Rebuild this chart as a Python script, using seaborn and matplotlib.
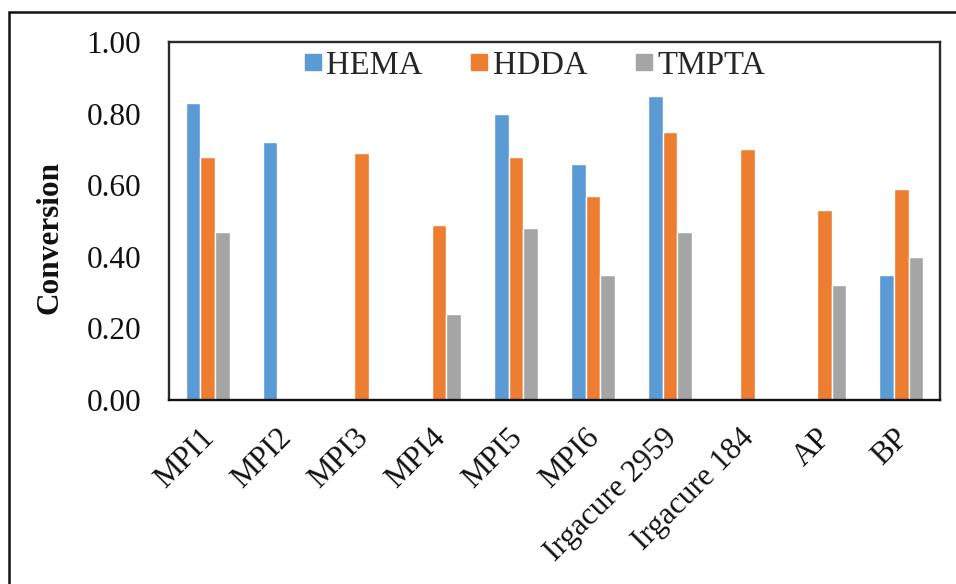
import matplotlib
matplotlib.use("Agg")
import matplotlib.pyplot as plt
import matplotlib.transforms as mtransforms
from matplotlib.lines import Line2D
from matplotlib.patches import Rectangle
import numpy as np
import pandas as pd
import seaborn as sns

# Photoinitiators on the x axis
initiators = ["MPI1", "MPI2", "MPI3", "MPI4", "MPI5", "MPI6",
              "Irgacure 2959", "Irgacure 184", "AP", "BP"]
monomers = ["HEMA", "HDDA", "TMPTA"]

# Final double-bond conversion (NaN = not measured)
hema = [0.83, 0.72, np.nan, np.nan, 0.80, 0.66, 0.85, np.nan, np.nan, 0.35]
hdda = [0.68, np.nan, 0.69, 0.49, 0.68, 0.57, 0.75, 0.70, 0.53, 0.59]
tmpta = [0.47, np.nan, np.nan, 0.24, 0.48, 0.35, 0.47, np.nan, 0.32, 0.40]

yticks = [0.0, 0.2, 0.4, 0.6, 0.8, 1.0]
colors = ["#5B9BD5", "#ED7D31", "#A5A5A5"]

rows = []
for name, vals in zip(monomers, [hema, hdda, tmpta]):
    for ini, v in zip(initiators, vals):
        rows.append({"Photoinitiator": ini, "Monomer": name, "Conversion": v})
df = pd.DataFrame(rows).dropna()

sns.set_theme(style="white")
plt.rcParams["font.family"] = ["Liberation Serif", "DejaVu Serif"]

fig = plt.figure(figsize=(9.56, 5.84), dpi=100)
ax = fig.add_axes([169 / 956, 1 - 400 / 584, 771 / 956, 358 / 584])

sns.barplot(data=df, x="Photoinitiator", y="Conversion", hue="Monomer",
            order=initiators, hue_order=monomers, palette=colors,
            saturation=1, width=0.57, dodge=True, errorbar=None,
            legend=False, ax=ax)

ax.set_xlim(-0.5, len(initiators) - 0.5)
ax.set_ylim(0, 1.0)
ax.set_yticks(yticks)
ax.set_yticklabels([f"{t:.2f}" for t in yticks], fontsize=22.5, color="#111111")
ax.tick_params(axis="y", length=0, pad=20)
ax.tick_params(axis="x", length=0, pad=17)
ax.set_xticks(range(len(initiators)))
ax.set_xticklabels(initiators, fontsize=22.5, color="#111111",
                   rotation=45, ha="right", va="top",
                   rotation_mode="anchor")
shift = mtransforms.ScaledTranslation(-8 / 100, 0, fig.dpi_scale_trans)
for lbl in ax.get_xticklabels():
    lbl.set_transform(lbl.get_transform() + shift)
ax.set_xlabel("")
ax.set_ylabel("Conversion", fontsize=22.5, fontweight="bold",
              color="#111111", ha="center", va="center")
ax.yaxis.set_label_coords(-0.1543, 0.454)

for side, sp in ax.spines.items():
    sp.set_visible(True)
    sp.set_color("#2a2a2a")
    sp.set_linewidth(1.7)
ax.spines["bottom"].set_color("#111111")

handles = [Line2D([], [], linestyle="none", marker="s", markersize=12,
                  markerfacecolor=c, markeredgecolor=c) for c in colors]
fig.legend(handles, monomers, loc="center", ncol=3, frameon=False,
           bbox_to_anchor=(534.5 / 956, 1 - 65.5 / 584),
           bbox_transform=fig.transFigure,
           handlelength=0.55, handletextpad=0.15, columnspacing=1.45,
           borderpad=0, prop={"size": 23.5})

# outer chart border
fig.patches.append(Rectangle((9 / 956, -0.2), 1.5, 1.2 - 12 / 584,
                             transform=fig.transFigure, fill=False,
                             edgecolor="#111111", linewidth=1.8,
                             clip_on=False))

fig.savefig("out.png", dpi=100)
